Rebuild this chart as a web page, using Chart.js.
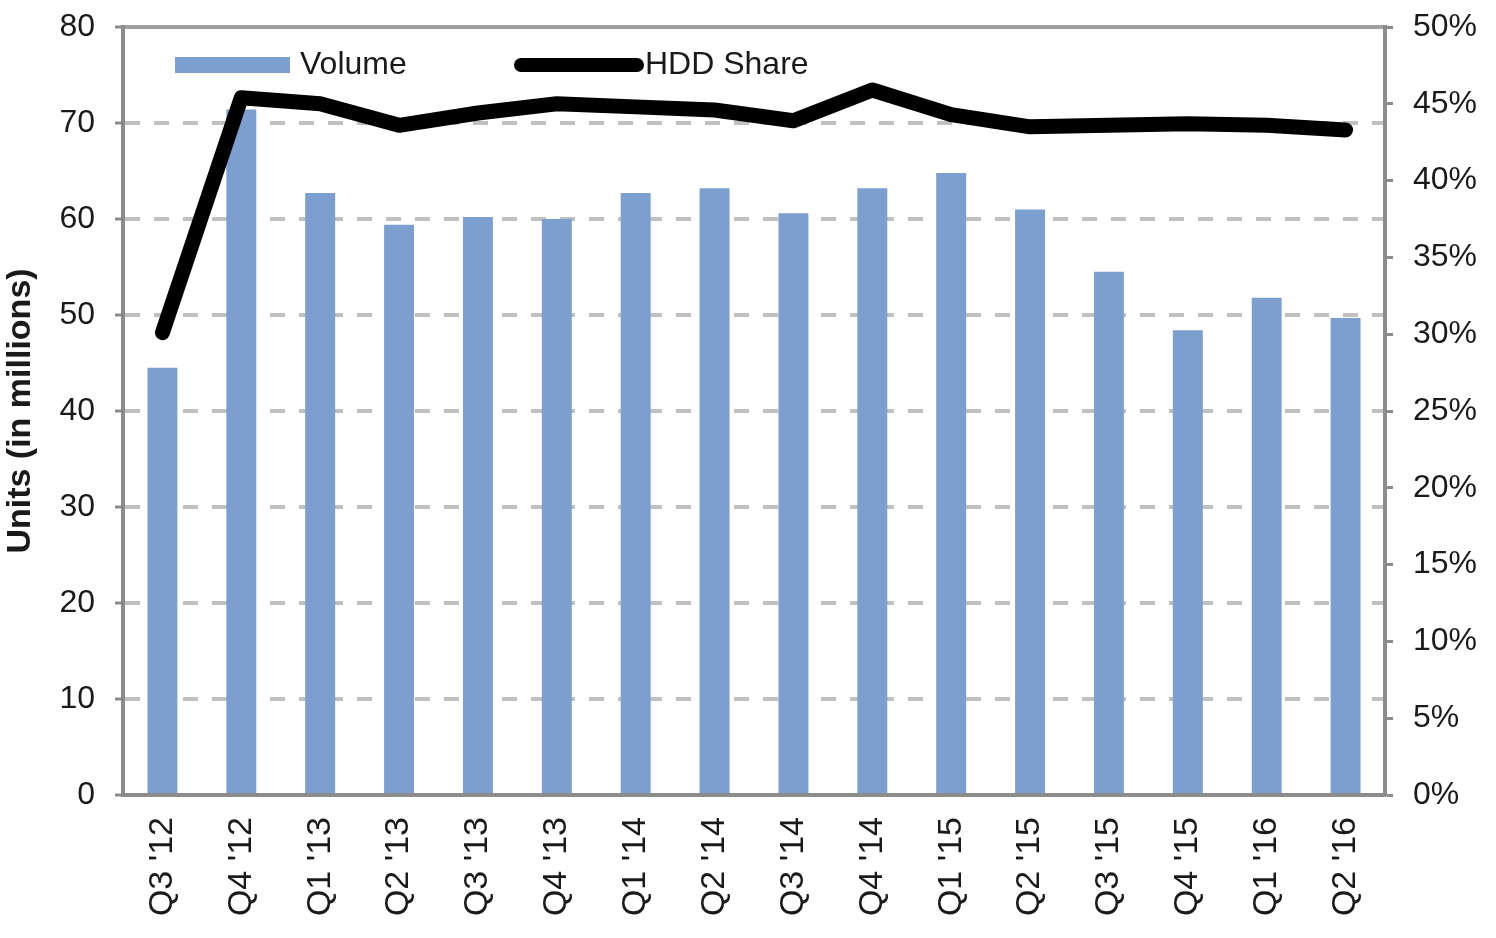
<!DOCTYPE html>
<html>
<head>
<meta charset="utf-8">
<script src="https://cdn.jsdelivr.net/npm/chart.js@4.4.1/dist/chart.umd.min.js"></script>
<style>
  html, body { margin: 0; padding: 0; background: #fff; }
  #chart { display: block; }
</style>
</head>
<body>
<canvas id="chart" width="1496" height="938"></canvas>
<script>
// Chart data
const quarters = ["Q3 '12", "Q4 '12", "Q1 '13", "Q2 '13", "Q3 '13", "Q4 '13", "Q1 '14", "Q2 '14",
                  "Q3 '14", "Q4 '14", "Q1 '15", "Q2 '15", "Q3 '15", "Q4 '15", "Q1 '16", "Q2 '16"];
const volume = [44.5, 71.4, 62.7, 59.4, 60.2, 60.0, 62.7, 63.2, 60.6, 63.2, 64.8, 61.0, 54.5, 48.4, 51.8, 49.7];
const hddShare = [30.1, 45.4, 45.0, 43.6, 44.4, 45.0, 44.8, 44.6, 43.9, 45.9, 44.3, 43.5, 43.6, 43.7, 43.6, 43.3];

const FONT = '"Liberation Sans", Arial, sans-serif';
const TEXT = '#1a1a1a';
const AXIS = '#8c8c8c';
const GRID = '#c0c0c0';

// legend drawn inside the plot, top left
const insideLegend = {
  id: 'insideLegend',
  afterDatasetsDraw(chart) {
    const { ctx, chartArea } = chart;
    const ds = chart.data.datasets;
    const y = chartArea.top + 38;
    ctx.save();
    ctx.font = '32px ' + FONT;
    ctx.textBaseline = 'middle';
    ctx.textAlign = 'left';

    let x = chartArea.left + 52;
    ctx.fillStyle = ds[0].backgroundColor;
    ctx.fillRect(x, y - 8, 115, 16);
    ctx.fillStyle = TEXT;
    ctx.fillText(ds[0].label, x + 125, y);

    x = chartArea.left + 398;
    ctx.strokeStyle = ds[1].borderColor;
    ctx.lineWidth = 14;
    ctx.lineCap = 'round';
    ctx.beginPath();
    ctx.moveTo(x, y);
    ctx.lineTo(x + 116, y);
    ctx.stroke();
    ctx.fillStyle = TEXT;
    ctx.fillText(ds[1].label, x + 124, y);
    ctx.restore();
  }
};

new Chart(document.getElementById('chart'), {
  type: 'bar',
  data: {
    labels: quarters,
    datasets: [{
      type: 'bar',
      label: 'Volume',
      data: volume,
      yAxisID: 'y',
      backgroundColor: '#7d9fd0',
      barPercentage: 0.38,
      categoryPercentage: 1,
      order: 1
    }, {
      type: 'line',
      label: 'HDD Share',
      data: hddShare,
      yAxisID: 'y2',
      borderColor: '#000',
      borderWidth: 15,
      borderJoinStyle: 'round',
      borderCapStyle: 'round',
      pointRadius: 0,
      tension: 0,
      order: 0
    }]
  },
  options: {
    responsive: false,
    animation: false,
    devicePixelRatio: 1,
    layout: { padding: { top: 27, left: 0, right: 0, bottom: 0 } },
    plugins: {
      legend: { display: false },
      tooltip: { enabled: false }
    },
    scales: {
      x: {
        grid: { display: false, drawTicks: false },
        border: { display: true, color: AXIS, width: 4 },
        ticks: {
          color: TEXT,
          font: { family: FONT, size: 34 },
          minRotation: 90,
          maxRotation: 90,
          padding: 22
        },
        afterFit(scale) { scale.height = 143; }
      },
      y: {
        position: 'left',
        min: 0,
        max: 80,
        ticks: {
          stepSize: 10,
          color: TEXT,
          font: { family: FONT, size: 32 },
          padding: 20
        },
        grid: {
          color: ctx => (ctx.tick && ctx.tick.value === 80) ? '#a0a0a0' : GRID,
          lineWidth: 4,
          tickLength: 8,
          tickColor: AXIS,
          tickWidth: 3
        },
        border: {
          display: true,
          color: AXIS,
          width: 4,
          dash: ctx => (ctx.tick && ctx.tick.value > 0 && ctx.tick.value < 80) ? [15, 14] : []
        },
        title: {
          display: true,
          text: 'Units (in millions)',
          color: TEXT,
          font: { family: FONT, size: 34, weight: 'bold' },
          padding: { top: 0, bottom: 0 }
        },
        afterFit(scale) {
          scale.width = 123;
          scale.paddingTop = 0;
          scale.paddingBottom = 0;
        }
      },
      y2: {
        position: 'right',
        min: 0,
        max: 50,
        ticks: {
          stepSize: 5,
          color: TEXT,
          font: { family: FONT, size: 32 },
          padding: 20,
          callback: v => v + '%'
        },
        grid: {
          drawOnChartArea: false,
          tickLength: 8,
          tickColor: AXIS,
          tickWidth: 3
        },
        border: { display: true, color: AXIS, width: 4 },
        afterFit(scale) {
          scale.width = 111;
          scale.paddingTop = 0;
          scale.paddingBottom = 0;
        }
      }
    }
  },
  plugins: [insideLegend]
});
</script>
</body>
</html>
